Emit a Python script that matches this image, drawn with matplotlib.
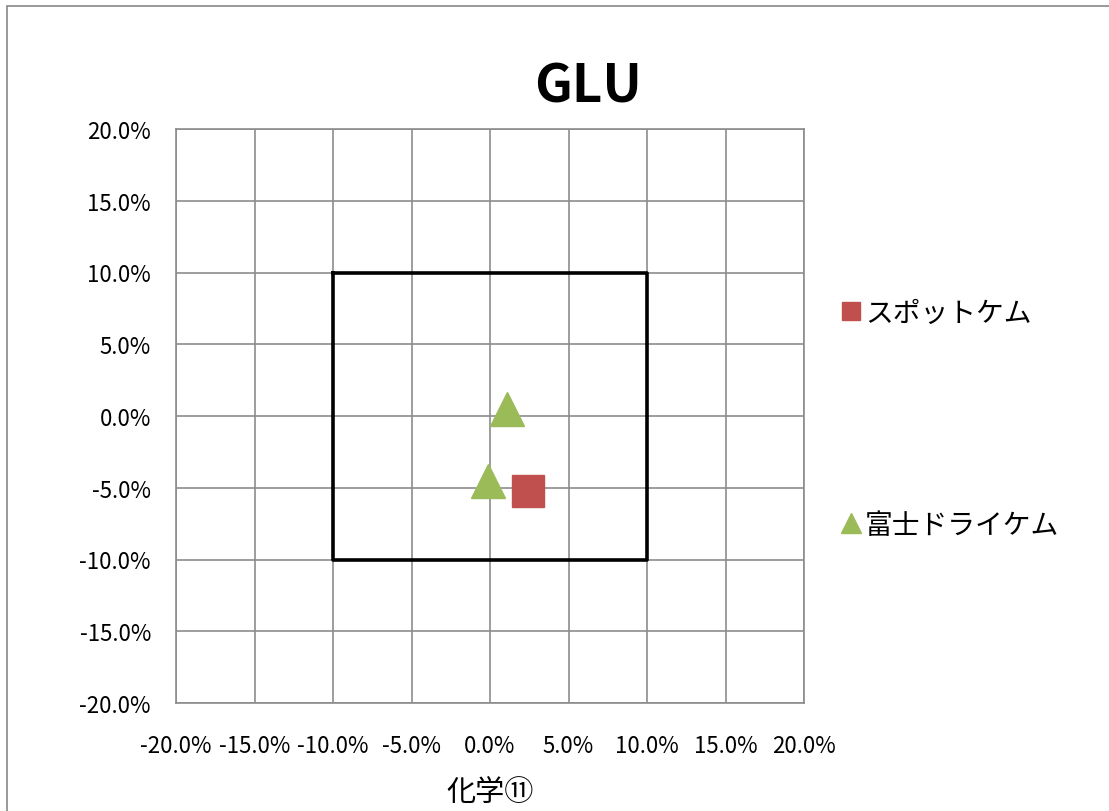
import matplotlib
matplotlib.use("Agg")
import matplotlib.pyplot as plt
from matplotlib.ticker import FuncFormatter, MultipleLocator
from matplotlib.patches import Rectangle

plt.rcParams['font.family'] = ['Noto Sans CJK JP', 'DejaVu Sans']

title = "GLU"
xlabel = "化学⑪"
series1_name = "スポットケム"
series1_x = [0.024]
series1_y = [-0.052]
series2_name = "富士ドライケム"
series2_x = [0.011, -0.001]
series2_y = [0.005, -0.045]
box_x = [-0.10, 0.10, 0.10, -0.10, -0.10]
box_y = [0.10, 0.10, -0.10, -0.10, 0.10]

fig = plt.figure(figsize=(11.09, 8.12), dpi=100)
fig.patches.append(Rectangle((7/1109, -0.01), 1.1, (812-7)/812 + 0.01, transform=fig.transFigure,
                             fill=False, edgecolor='#888888', linewidth=1.2))
ax = fig.add_axes([176/1109, (812-704)/812, (804-176)/1109, (704-130)/812])

ax.plot(box_x, box_y, color='black', linewidth=2.6, zorder=3)
ax.plot(series1_x, series1_y, linestyle='none', marker='s', markersize=23,
        color='#C0504D', label=series1_name, zorder=4)
ax.plot(series2_x, series2_y, linestyle='none', marker='^', markersize=25,
        color='#9BBB59', label=series2_name, zorder=4)

ax.set_xlim(-0.2, 0.2)
ax.set_ylim(-0.2, 0.2)
ax.xaxis.set_major_locator(MultipleLocator(0.05))
ax.yaxis.set_major_locator(MultipleLocator(0.05))
fmt = FuncFormatter(lambda v, p: f"{v*100:.1f}%")
ax.xaxis.set_major_formatter(fmt)
ax.yaxis.set_major_formatter(fmt)
ax.grid(True, color='#8c8c8c', linewidth=1.2)
ax.set_axisbelow(True)
for s in ax.spines.values():
    s.set_color('#8c8c8c')
    s.set_linewidth(1.2)
ax.tick_params(axis='both', length=0, labelsize=16)
ax.tick_params(axis='x', pad=22)
ax.tick_params(axis='y', pad=18)

ax.set_xlabel(xlabel, fontsize=21, labelpad=15)
fig.text(588/1109, 1 - 87/812, title, fontsize=38, fontweight='bold',
         ha='center', va='center')

leg = fig.legend(loc='upper left', bbox_to_anchor=(818/1109, 1 - 274/812),
                 frameon=False, fontsize=20, labelspacing=6.55, markerscale=0.56,
                 handlelength=0.6, handletextpad=0.2)

fig.savefig("out.png", dpi=100)
